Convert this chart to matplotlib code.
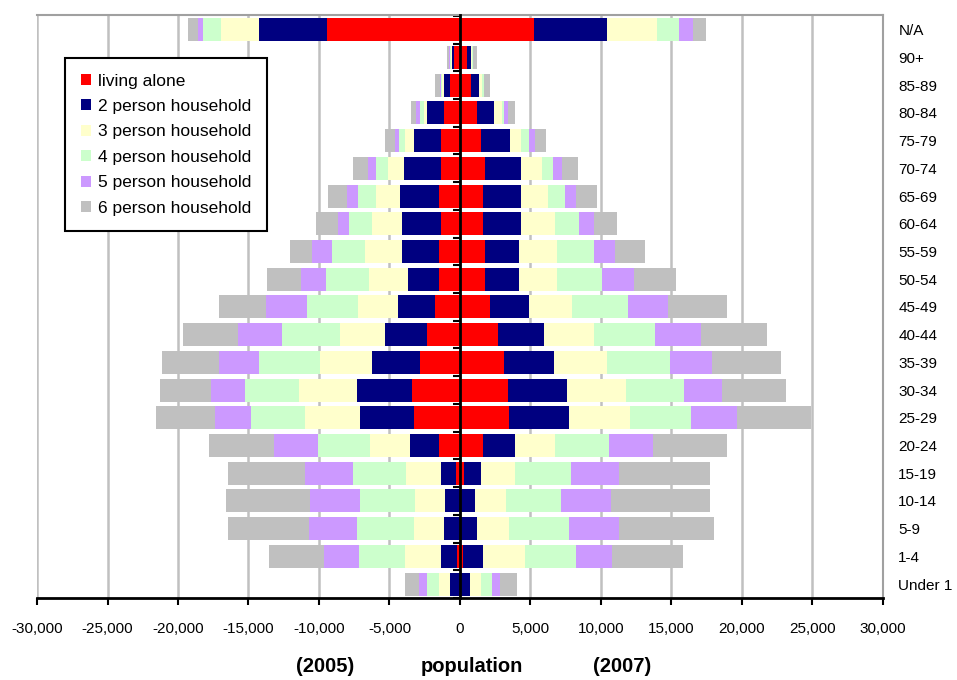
import numpy as np
import matplotlib
matplotlib.use("Agg")
import matplotlib.pyplot as plt
from matplotlib.ticker import FuncFormatter, MultipleLocator

plt.rcParams['font.family'] = ['Liberation Sans', 'DejaVu Sans']

# age groups, bottom to top
ages = ["Under 1", "1-4", "5-9", "10-14", "15-19", "20-24", "25-29", "30-34",
        "35-39", "40-44", "45-49", "50-54", "55-59", "60-64", "65-69", "70-74",
        "75-79", "80-84", "85-89", "90+", "N/A"]

labels = ["living alone", "2 person household", "3 person household",
          "4 person household", "5 person household", "6 person household"]
colors = ["#FF0000", "#000080", "#FFFFCC", "#CCFFCC", "#CC99FF", "#C0C0C0"]

# 2005 (drawn to the left)
alone_05 = [0, 200, 0, 30, 285, 1520, 3280, 3420, 2870, 2330, 1780, 1500, 1500,
            1350, 1500, 1350, 1350, 1120, 710, 400, 9400]
two_05 = [710, 1150, 1120, 1000, 1070, 2040, 3800, 3920, 3380, 2960, 2590, 2190,
          2590, 2730, 2730, 2610, 1920, 1210, 410, 150, 4890]
three_05 = [780, 2580, 2160, 2140, 2440, 2850, 3920, 4060, 3650, 3250, 2830, 2730,
            2680, 2160, 1760, 1180, 640, 200, 160, 100, 2680]
four_05 = [830, 3250, 4060, 3940, 3800, 3630, 3800, 3820, 4340, 4080, 3680, 3110,
           2330, 1660, 1210, 830, 430, 300, 60, 80, 1240]
five_05 = [570, 2470, 3400, 3540, 3390, 3130, 2590, 2460, 2850, 3110, 2850, 1750,
           1370, 780, 830, 550, 290, 300, 100, 50, 400]
six_05 = [1040, 3920, 5700, 5930, 5440, 4610, 4200, 3630, 4080, 3940, 3370, 2420,
          1620, 1500, 1330, 1070, 660, 380, 330, 170, 670]

# 2007 (drawn to the right)
alone_07 = [0, 235, 30, 30, 250, 1620, 3510, 3400, 3110, 2710, 2160, 1760, 1760,
            1620, 1620, 1760, 1500, 1210, 780, 520, 5270]
two_07 = [690, 1400, 1180, 1060, 1245, 2300, 4230, 4200, 3530, 3250, 2700, 2420,
          2420, 2700, 2700, 2590, 2020, 1230, 570, 260, 5170]
three_07 = [805, 2940, 2300, 2165, 2420, 2850, 4320, 4200, 3800, 3510, 3110, 2730,
            2730, 2450, 1900, 1500, 810, 520, 190, 70, 3510]
four_07 = [805, 3680, 4200, 3940, 3940, 3800, 4340, 4060, 4460, 4340, 3940, 3130,
           2560, 1660, 1230, 780, 550, 150, 160, 50, 1590]
five_07 = [550, 2560, 3560, 3510, 3420, 3110, 3250, 2730, 2970, 3280, 2870, 2300,
           1520, 1050, 810, 570, 430, 280, 20, 20, 970]
six_07 = [1210, 5030, 6740, 7050, 6480, 5290, 5270, 4560, 4870, 4700, 4180, 2970,
          2140, 1640, 1470, 1190, 760, 520, 430, 290, 930]

left = [alone_05, two_05, three_05, four_05, five_05, six_05]
right = [alone_07, two_07, three_07, four_07, five_07, six_07]

fig = plt.figure(figsize=(9.57, 6.8), dpi=100)
ax = fig.add_axes([37 / 957, 1 - 598 / 680, (883 - 37) / 957, (598 - 15) / 680])

y = np.arange(len(ages))
h = 0.83
cum_l = np.zeros(len(ages))
cum_r = np.zeros(len(ages))
for lv, rv, lab, col in zip(left, right, labels, colors):
    lv = np.array(lv, dtype=float)
    rv = np.array(rv, dtype=float)
    ax.barh(y, -lv, left=-cum_l, height=h, color=col, label=lab, zorder=2)
    ax.barh(y, rv, left=cum_r, height=h, color=col, zorder=2)
    cum_l += lv
    cum_r += rv

ax.set_xlim(-30000, 30000)
ax.set_ylim(-0.49, 20.53)
ax.xaxis.set_major_locator(MultipleLocator(5000))
ax.xaxis.set_major_formatter(FuncFormatter(lambda v, p: f"{int(v):,}"))
ax.grid(axis='x', color='#C0C0C0', linewidth=1.8, zorder=0)
ax.set_axisbelow(True)

ax.spines['left'].set_position(('data', 0))
ax.spines['left'].set_linewidth(2)
ax.spines['left'].set_zorder(3)
ax.spines['bottom'].set_linewidth(2)
ax.spines['top'].set_color('#A0A0A0')
ax.spines['right'].set_color('#A0A0A0')
ax.spines['top'].set_linewidth(1.5)
ax.spines['right'].set_linewidth(1.5)

ax.set_yticks(y)
ax.set_yticklabels(ages)
ax.set_yticks(np.arange(len(ages) + 1) - 0.5, minor=True)
ax.tick_params(axis='y', which='major', left=True, right=False, labelleft=False,
               labelright=True, direction='in', length=4, width=1.5, labelsize=11, pad=11)
ax.tick_params(axis='y', which='minor', left=True, right=False, direction='out',
               length=5, width=1.5)
ax.tick_params(axis='x', direction='out', length=5, width=1.5, labelsize=11, pad=12)

fig.text(325 / 957, 0.012, "(2005)", fontsize=14.5, fontweight='bold', ha='center')
fig.text(472 / 957, 0.012, "population", fontsize=14.5, fontweight='bold', ha='center')
fig.text(622 / 957, 0.012, "(2007)", fontsize=14.5, fontweight='bold', ha='center')

leg = ax.legend(loc='upper left', bbox_to_anchor=(65 / 957, 1 - 58 / 680),
                bbox_transform=fig.transFigure, borderaxespad=0, fancybox=False,
                edgecolor='black', fontsize=12.5, handlelength=0.6, handleheight=0.6,
                handletextpad=0.4, labelspacing=0.6, borderpad=0.9, framealpha=1)
leg.get_frame().set_linewidth(1.5)

fig.savefig("out.png", dpi=100)
